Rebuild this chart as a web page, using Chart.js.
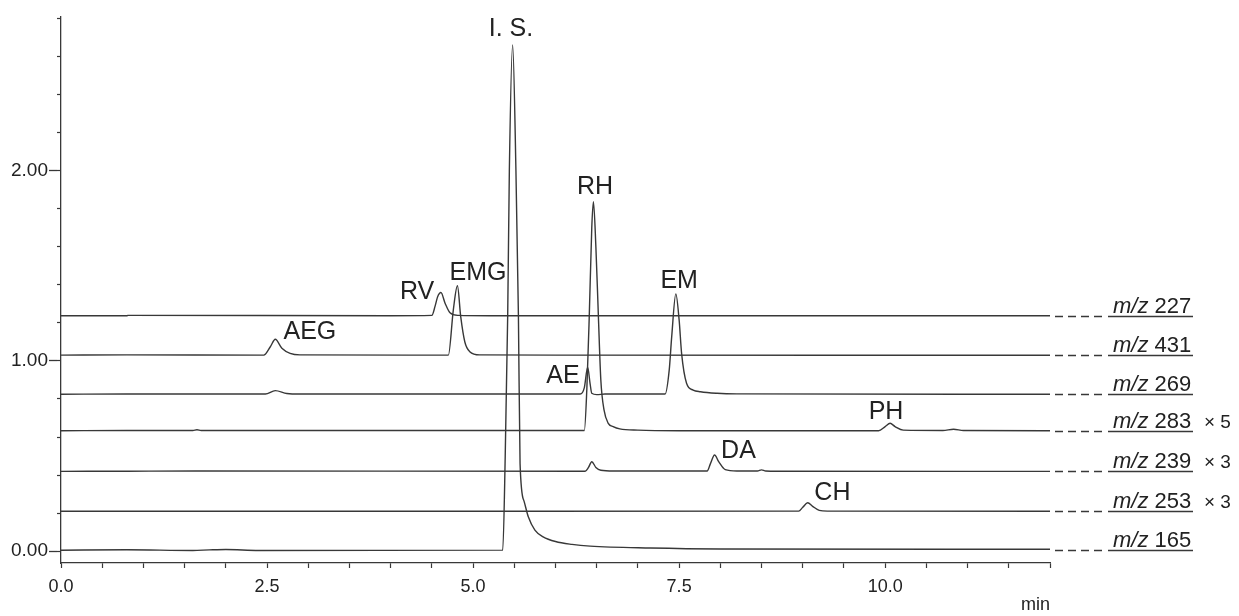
<!DOCTYPE html>
<html>
<head>
<meta charset="utf-8">
<script src="https://cdn.jsdelivr.net/npm/chart.js@4.4.1/dist/chart.umd.min.js"></script>
<style>
  html, body { margin: 0; padding: 0; background: #fff; }
  #wrap { width: 1239px; height: 616px; }
</style>
</head>
<body>
<div id="wrap"><canvas id="chromChart" width="1239" height="616"></canvas></div>
<script>
// traces: retention time (min) and offset intensity
const mz227Time   = [0, 0.8, 0.81, 4.0, 4.50, 4.54, 4.57, 4.61, 4.66, 4.72, 4.82, 5.2, 12];
const mz227Signal = [1.238, 1.238, 1.240, 1.238, 1.240, 1.29, 1.338, 1.36, 1.304, 1.254, 1.240, 1.238, 1.238];

const mz431Time   = [0, 0.8, 2.46, 2.54, 2.60, 2.68, 2.78, 2.90, 4.70, 4.76, 4.81, 4.85, 4.90, 4.96, 5.08, 6.0, 12];
const mz431Signal = [1.031, 1.032, 1.031, 1.075, 1.114, 1.067, 1.04, 1.032, 1.031, 1.268, 1.396, 1.233, 1.10, 1.049, 1.032, 1.031, 1.030];

const mz269Time   = [0, 0.8, 2.48, 2.60, 2.74, 2.9, 6.30, 6.35, 6.39, 6.42, 6.44, 6.50, 6.60, 7.33, 7.38, 7.41, 7.46, 7.50, 7.53, 7.59, 7.67, 7.76, 7.96, 8.2, 12];
const mz269Signal = [0.825, 0.826, 0.826, 0.844, 0.829, 0.826, 0.826, 0.86, 0.967, 0.88, 0.83, 0.823, 0.826, 0.826, 0.953, 1.128, 1.353, 1.216, 1.04, 0.883, 0.847, 0.838, 0.83, 0.827, 0.825];

const mz283Time   = [0, 0.8, 1.6, 1.65, 1.7, 6.35, 6.38, 6.41, 6.44, 6.46, 6.49, 6.52, 6.55, 6.59, 6.64, 6.70, 6.78, 7.0, 7.5, 9.92, 10.0, 10.06, 10.12, 10.22, 10.7, 10.83, 10.95, 12];
const mz283Signal = [0.633, 0.634, 0.634, 0.638, 0.634, 0.634, 0.85, 1.24, 1.70, 1.838, 1.60, 1.24, 0.90, 0.74, 0.672, 0.655, 0.643, 0.636, 0.633, 0.633, 0.655, 0.672, 0.655, 0.636, 0.634, 0.641, 0.634, 0.633];

const mz239Time   = [0, 0.8, 1.65, 6.36, 6.40, 6.44, 6.49, 6.55, 6.7, 7.84, 7.88, 7.93, 7.98, 8.06, 8.2, 8.45, 8.5, 8.55, 8.7, 12];
const mz239Signal = [0.419, 0.420, 0.421, 0.420, 0.44, 0.47, 0.44, 0.425, 0.421, 0.421, 0.46, 0.505, 0.47, 0.428, 0.421, 0.421, 0.427, 0.421, 0.420, 0.419];

const mz253Time   = [0, 8.95, 9.0, 9.06, 9.12, 9.2, 9.3, 12];
const mz253Signal = [0.209, 0.210, 0.23, 0.254, 0.235, 0.214, 0.210, 0.209];

const mz165Time   = [0, 0.8, 1.6, 1.8, 2.0, 2.4, 5.36, 5.39, 5.42, 5.44, 5.48, 5.52, 5.55, 5.57, 5.62, 5.67, 5.75, 5.85, 6.0, 6.2, 6.42, 7.15, 8.0, 12];
const mz165Signal = [0.004, 0.007, 0.003, 0.006, 0.008, 0.003, 0.005, 0.5, 1.24, 2.0, 2.663, 2.0, 1.24, 0.46, 0.26, 0.18, 0.11, 0.075, 0.05, 0.035, 0.026, 0.016, 0.011, 0.009];

const traceNames = ['227', '431', '269', '283', '239', '253', '165'];
const traceBaselines = [1.238, 1.031, 0.825, 0.633, 0.419, 0.209, 0.005];
const traceFactors = ['', '', '', '\u00d7 5', '\u00d7 3', '\u00d7 3', ''];

const peakNames = ['I. S.', 'RH', 'EM', 'EMG', 'RV', 'AEG', 'AE', 'DA', 'PH', 'CH'];
const peakLabelTimes = [5.46, 6.48, 7.50, 5.06, 4.32, 3.02, 6.09, 8.22, 10.01, 9.36];
const peakLabelLevels = [2.748, 1.916, 1.421, 1.463, 1.363, 1.153, 0.921, 0.524, 0.732, 0.305];

const timeRange = [0, 12];
const signalRange = [-0.063, 2.81];

const FONT = "'Liberation Sans', Arial, sans-serif";
const INK = '#383838';

const traces = [
    [mz227Time, mz227Signal],
    [mz431Time, mz431Signal],
    [mz269Time, mz269Signal],
    [mz283Time, mz283Signal],
    [mz239Time, mz239Signal],
    [mz253Time, mz253Signal],
    [mz165Time, mz165Signal]
];

const datasets = traces.map((tr, i) => ({
    label: 'm/z ' + traceNames[i],
    data: tr[0].map((t, j) => ({ x: t, y: tr[1][j] })),
    borderColor: INK,
    borderWidth: 1.4,
    pointRadius: 0,
    fill: false,
    cubicInterpolationMode: 'monotone'
}));

const labelPlugin = {
    id: 'chromLabels',
    afterDatasetsDraw(chart) {
        const ctx = chart.ctx;
        const xs = chart.scales.x;
        const ys = chart.scales.y;
        const right = chart.chartArea.right;
        ctx.save();
        ctx.fillStyle = '#222';

        // peak names
        ctx.font = '25px ' + FONT;
        ctx.textAlign = 'center';
        ctx.textBaseline = 'middle';
        peakNames.forEach((name, i) => {
            ctx.fillText(name, xs.getPixelForValue(peakLabelTimes[i]), ys.getPixelForValue(peakLabelLevels[i]));
        });

        // trace names on the right
        traceNames.forEach((name, i) => {
            const y = Math.round(ys.getPixelForValue(traceBaselines[i])) + 0.5;
            ctx.strokeStyle = INK;
            ctx.lineWidth = 1.3;
            ctx.setLineDash([8, 5]);
            ctx.beginPath();
            ctx.moveTo(right + 5, y);
            ctx.lineTo(right + 53, y);
            ctx.stroke();
            ctx.setLineDash([]);
            ctx.beginPath();
            ctx.moveTo(right + 58, y);
            ctx.lineTo(right + 143, y);
            ctx.stroke();

            ctx.textAlign = 'left';
            ctx.textBaseline = 'alphabetic';
            let x = right + 63;
            ctx.font = 'italic 22px ' + FONT;
            ctx.fillText('m/z', x, y - 4);
            x += ctx.measureText('m/z').width;
            ctx.font = '22px ' + FONT;
            ctx.fillText(' ' + name, x, y - 4);
            if (traceFactors[i]) {
                ctx.font = '19px ' + FONT;
                ctx.fillText(traceFactors[i], right + 154, y - 4);
            }
        });
        ctx.restore();
    }
};

new Chart(document.getElementById('chromChart'), {
    type: 'line',
    data: { datasets },
    options: {
        responsive: false,
        animation: false,
        layout: { padding: { top: 17, right: 189, bottom: 0, left: 0 } },
        plugins: { legend: { display: false }, tooltip: { enabled: false } },
        scales: {
            x: {
                type: 'linear',
                min: timeRange[0],
                max: timeRange[1],
                border: { color: INK, width: 1.3 },
                grid: { drawOnChartArea: false, tickLength: 5, color: INK, tickWidth: 1.2 },
                ticks: {
                    stepSize: 0.5,
                    autoSkip: false,
                    maxRotation: 0,
                    padding: 8,
                    color: '#222',
                    font: { family: FONT, size: 18 },
                    callback: v => Math.abs(v / 2.5 - Math.round(v / 2.5)) < 1e-6 ? v.toFixed(1) : ''
                },
                title: {
                    display: true, text: 'min', align: 'end', color: '#222',
                    font: { family: FONT, size: 18 }, padding: { top: 0, bottom: 0 }
                },
                afterFit(scale) { scale.height = 53; }
            },
            y: {
                type: 'linear',
                position: 'left',
                weight: 0,
                min: signalRange[0],
                max: signalRange[1],
                border: { color: INK, width: 1.3 },
                grid: { drawOnChartArea: false, tickLength: 4, color: INK, tickWidth: 1.2 },
                ticks: { stepSize: 0.2, includeBounds: false, autoSkip: false, display: false },
                afterFit(scale) { scale.width = 4; }
            },
            yMajor: {
                type: 'linear',
                position: 'left',
                weight: 1,
                min: signalRange[0],
                max: signalRange[1],
                border: { display: false },
                grid: { drawOnChartArea: false, tickLength: 8, color: INK, tickWidth: 1.3 },
                ticks: {
                    stepSize: 1,
                    includeBounds: false,
                    padding: 1,
                    color: '#222',
                    font: { family: FONT, size: 19 },
                    callback: v => v.toFixed(2)
                },
                afterFit(scale) { scale.width = 57; }
            }
        }
    },
    plugins: [labelPlugin]
});
</script>
</body>
</html>
